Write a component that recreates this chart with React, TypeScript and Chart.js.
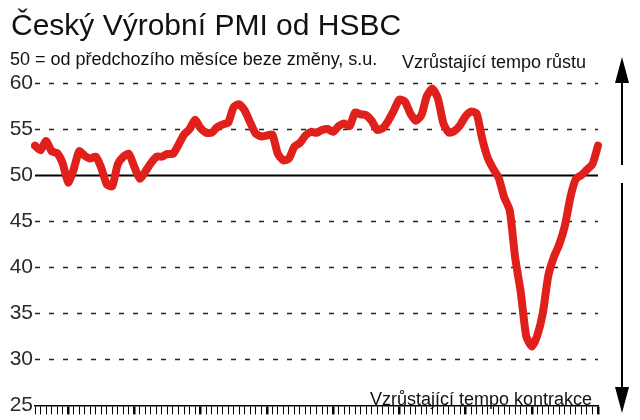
import React, { useEffect, useRef } from "react";
import { Chart, registerables } from "chart.js";

Chart.register(...registerables);

// ---- data ----
const YEARS = [2001, 2002, 2003, 2004, 2005, 2006, 2007, 2008, 2009, 2010];
const MONTHS = ["01", "02", "03", "04", "05", "06", "07", "08", "09", "10", "11", "12"];
const FIRST_MONTH = "2001-07";
const LAST_MONTH = "2010-01";

const PMI = [
  53.2, 52.7, 53.7, 52.6, 52.4, 51.3, 49.2, 50.6, 52.6, 52.1,
  51.8, 52.0, 50.8, 49.0, 48.8, 51.2, 52.0, 52.3, 50.9, 49.6,
  50.4, 51.3, 52.0, 52.0, 52.3, 52.3, 53.3, 54.4, 55.0, 56.0,
  55.1, 54.6, 54.6, 55.2, 55.5, 55.7, 57.4, 57.7, 57.0, 55.7,
  54.5, 54.2, 54.3, 54.4, 52.3, 51.6, 51.8, 53.1, 53.5, 54.3,
  54.7, 54.6, 54.9, 55.0, 54.7, 55.3, 55.6, 55.3, 56.8, 56.6,
  56.5, 55.9, 54.9, 55.1, 55.9, 57.0, 58.2, 58.0, 56.7, 55.9,
  56.5, 58.6, 59.4, 58.3, 55.6, 54.6, 54.8, 55.4, 56.4, 56.9,
  56.7, 54.0, 51.9, 50.7, 49.7, 47.6, 46.2, 41.0, 37.3, 32.5,
  31.4, 32.6, 35.0, 39.1, 41.1, 42.5, 44.5, 47.6, 49.6, 50.0,
  50.6, 51.2, 53.2,
];

const Y_TICKS = [25, 30, 35, 40, 45, 50, 55, 60];
const NEUTRAL = 50;

const TITLE = "Český Výrobní PMI od HSBC";
const SUBTITLE = "50 = od předchozího měsíce beze změny, s.u.";
const TOP_NOTE = "Vzrůstající tempo růstu";
const BOTTOM_NOTE = "Vzrůstající tempo kontrakce";

const LABELS: string[] = [];
for (const y of YEARS) {
  for (const m of MONTHS) {
    const key = `${y}-${m}`;
    if (key >= FIRST_MONTH && key <= LAST_MONTH) LABELS.push(key);
  }
}

const FONT = '"Liberation Sans", Arial, Helvetica, sans-serif';
const RED = "#e0201b";

const decorPlugin = {
  id: "decor",
  beforeDatasetsDraw(chart: any) {
    const { ctx, chartArea, scales } = chart;
    const ys = scales.y;
    ctx.save();
    for (const v of Y_TICKS) {
      if (v === Y_TICKS[0]) continue;
      const y = Math.round(ys.getPixelForValue(v)) + 0.5;
      ctx.beginPath();
      if (v === NEUTRAL) {
        ctx.setLineDash([]);
        ctx.lineWidth = 2;
        ctx.strokeStyle = "#000";
      } else {
        ctx.setLineDash([5, 9]);
        ctx.lineWidth = 1.5;
        ctx.strokeStyle = "#222";
      }
      ctx.moveTo(chartArea.left, y);
      ctx.lineTo(chartArea.right, y);
      ctx.stroke();
    }
    ctx.restore();
  },
  afterDraw(chart: any) {
    const { ctx } = chart;
    ctx.save();
    ctx.fillStyle = "#111";
    ctx.textBaseline = "alphabetic";
    ctx.textAlign = "left";
    ctx.font = `30px ${FONT}`;
    ctx.fillText(TITLE, 11, 35);
    ctx.font = `18px ${FONT}`;
    ctx.fillText(SUBTITLE, 10, 65);
    ctx.fillText(TOP_NOTE, 402, 68);
    ctx.textAlign = "right";
    ctx.fillText(BOTTOM_NOTE, 592, 405);

    // arrows
    const ax = 622;
    ctx.strokeStyle = "#000";
    ctx.fillStyle = "#000";
    ctx.lineWidth = 2;
    ctx.beginPath();
    ctx.moveTo(ax, 80);
    ctx.lineTo(ax, 165);
    ctx.moveTo(ax, 183);
    ctx.lineTo(ax, 390);
    ctx.stroke();
    ctx.beginPath();
    ctx.moveTo(ax, 57);
    ctx.lineTo(ax - 7, 83);
    ctx.lineTo(ax + 7, 83);
    ctx.closePath();
    ctx.fill();
    ctx.beginPath();
    ctx.moveTo(ax - 7, 387);
    ctx.lineTo(ax + 7, 387);
    ctx.lineTo(ax, 413);
    ctx.closePath();
    ctx.fill();
    ctx.restore();
  },
};

export default function App() {
  const ref = useRef<HTMLCanvasElement | null>(null);
  useEffect(() => {
    if (!ref.current) return;
    const chart = new Chart(ref.current, {
      type: "line",
      data: {
        labels: LABELS,
        datasets: [
          {
            data: PMI,
            borderColor: RED,
            borderWidth: 8,
            pointRadius: 0,
            tension: 0.2,
            borderCapStyle: "round",
            borderJoinStyle: "round",
            fill: false,
          },
        ],
      },
      options: {
        animation: false,
        responsive: false,
        devicePixelRatio: 1,
        layout: { padding: { top: 83, right: 42, left: 0, bottom: 0 } },
        plugins: { legend: { display: false }, tooltip: { enabled: false }, title: { display: false } },
        scales: {
          x: {
            type: "category",
            offset: false,
            grid: {
              display: true,
              drawOnChartArea: false,
              drawTicks: true,
              tickLength: 9,
              color: "#000",
              lineWidth: (c: any) => (LABELS[c.index] && LABELS[c.index].endsWith("-01") ? 2.5 : 1),
            },
            border: { display: true, color: "#000", width: 1.5 },
            ticks: { display: false, autoSkip: false },
            afterFit: (s: any) => {
              s.height = 8;
            },
          },
          y: {
            min: 25,
            max: 60,
            grid: { display: false, drawTicks: false },
            border: { display: false },
            ticks: {
              stepSize: 5,
              padding: 2,
              color: "#2a2a2a",
              font: { family: FONT, size: 21 },
              callback: (v: any) => String(v),
            },
            afterBuildTicks: (s: any) => {
              s.ticks = Y_TICKS.map((v) => ({ value: v }));
            },
            afterFit: (s: any) => {
              s.width = 35;
            },
          },
        },
      },
      plugins: [decorPlugin],
    });
    return () => chart.destroy();
  }, []);
  return (
    <div style={{ position: "fixed", left: 0, top: 0, width: 640, height: 420, background: "#fff" }}>
      <canvas ref={ref} width={640} height={420} style={{ display: "block" }} />
    </div>
  );
}
